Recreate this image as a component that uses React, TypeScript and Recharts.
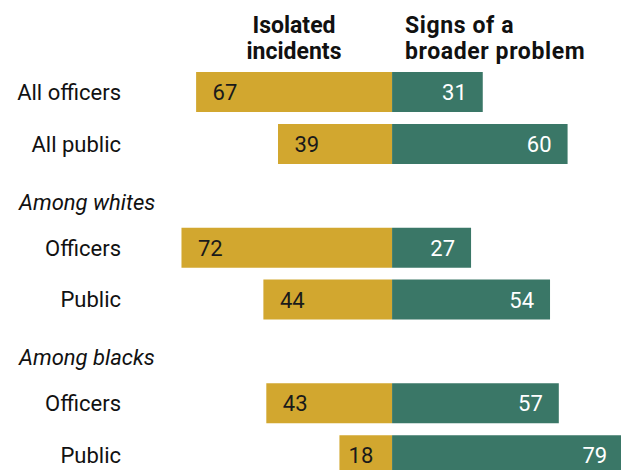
import { BarChart, Bar, XAxis, YAxis, LabelList } from "recharts";

// Survey rows, top to bottom (group headers have no values)
const categories = [
  "All officers",
  "All public",
  "Among whites",
  "Whites: Officers",
  "Whites: Public",
  "Among blacks",
  "Blacks: Officers",
  "Blacks: Public",
];
const groupHeaders = ["Among whites", "Among blacks"];
const isolated = [67, 39, null, 72, 44, null, 43, 18];
const broader = [31, 60, null, 27, 54, null, 57, 79];

const GOLD = "#D2A72F";
const GREEN = "#3A7767";
const FONT = "Roboto, 'Liberation Sans', sans-serif";

const data = categories.map((key, i) => ({
  key,
  isolated: isolated[i] == null ? null : -(isolated[i] as number),
  broader: broader[i],
}));

function RowTick(props: any) {
  const { y, payload } = props;
  const name: string = payload.value;
  if (groupHeaders.includes(name)) {
    return (
      <text x={19} y={y + 14} fontSize={22} fontStyle="italic" fill="#111" fontFamily={FONT}>
        {name}
      </text>
    );
  }
  const label = name.split(": ").pop();
  return (
    <text x={121} y={y + 8} fontSize={22} textAnchor="end" fill="#111" fontFamily={FONT}>
      {label}
    </text>
  );
}

function IsolatedLabel(props: any) {
  const { x, y, width, height, value } = props;
  if (value == null) return null;
  const left = Math.min(x, x + width);
  const w = Math.abs(width);
  const off = Math.min(16.5, w - 27 - 16.5);
  return (
    <text x={left + off} y={y + height / 2 + 8} fontSize={22} fill="#1a1a1a" fontFamily={FONT}>
      {Math.abs(value)}
    </text>
  );
}

function BroaderLabel(props: any) {
  const { x, y, width, height, value } = props;
  if (value == null) return null;
  const right = Math.max(x, x + width);
  return (
    <text x={right - 16} y={y + height / 2 + 8} fontSize={22} textAnchor="end" fill="#fff" fontFamily={FONT}>
      {value}
    </text>
  );
}

const headStyle: any = {
  position: "absolute",
  top: 13,
  fontFamily: FONT,
  fontWeight: 700,
  fontSize: 23,
  lineHeight: "26px",
  color: "#111",
};

export default function App() {
  return (
    <div style={{ position: "relative", width: 621, height: 470, overflow: "hidden", background: "#fff", fontFamily: FONT }}>
      <style>{`body{margin:0}`}</style>
      <div style={{ ...headStyle, left: 194, width: 200, textAlign: "center" }}>
        Isolated
        <br />
        incidents
      </div>
      <div style={{ ...headStyle, left: 405, width: 216, letterSpacing: 0.6 }}>
        Signs of a
        <br />
        broader problem
      </div>
      <BarChart
        width={641}
        height={490}
        data={data}
        layout="vertical"
        stackOffset="sign"
        barSize={40}
        margin={{ top: 66, right: 0, bottom: 9, left: 0 }}
      >
        <XAxis type="number" domain={[-89.6, 85.1]} hide />
        <YAxis
          type="category"
          dataKey="key"
          width={130}
          axisLine={false}
          tickLine={false}
          interval={0}
          tick={<RowTick />}
        />
        <Bar dataKey="isolated" stackId="a" fill={GOLD} isAnimationActive={false}>
          <LabelList dataKey="isolated" content={<IsolatedLabel />} />
        </Bar>
        <Bar dataKey="broader" stackId="a" fill={GREEN} isAnimationActive={false}>
          <LabelList dataKey="broader" content={<BroaderLabel />} />
        </Bar>
      </BarChart>
    </div>
  );
}
